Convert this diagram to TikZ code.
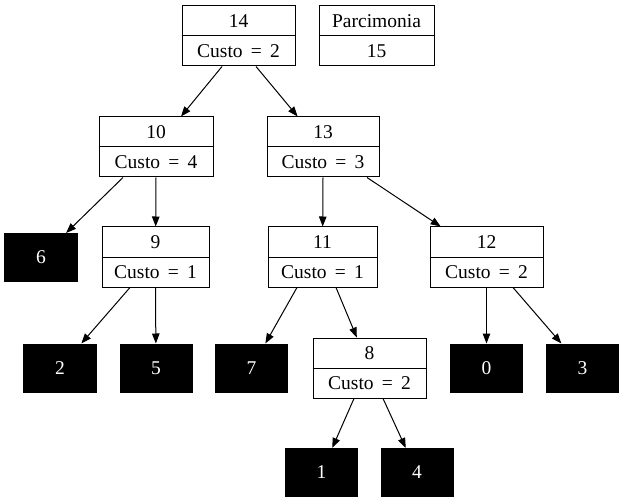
\documentclass[tikz,border=0pt]{standalone}
\usepackage{fontspec}
\setmainfont{Liberation Serif}
\usetikzlibrary{arrows.meta}

% slightly wider interword spaces for the record labels
\newcommand{\widespaces}{\spaceskip=0.42em\relax}

% two-field record: name, x, y, width, upper text, lower text
\newcommand{\recbox}[6]{%
  \node[recframe, minimum width=#4] (#1) at (#2,#3) {};
  \draw[recline] (#1.west) -- (#1.east);
  \node[rectext] (#1-top) at ([yshift=15bp]#1.center) {#5};
  \node[rectext] (#1-bot) at ([yshift=-15bp]#1.center) {\widespaces #6};
}
% filled leaf box: name, x, y, label
\newcommand{\leafbox}[4]{%
  \node[leaf] (#1) at (#2,#3) {#4};
}

\tikzset{
  recframe/.style={draw=black, line width=1bp, fill=white, minimum height=60bp, inner sep=0pt},
  recline/.style={black, line width=1bp},
  rectext/.style={inner sep=0pt, font=\fontsize{19.5bp}{21bp}\selectfont},
  leaf/.style={fill=black, draw=black, line width=1bp, text=white, minimum width=72bp,
    minimum height=48bp, inner sep=0pt, font=\fontsize{19.5bp}{21bp}\selectfont},
  edge/.style={draw=black, line width=1bp, -{Triangle[length=10bp,width=7.5bp]}},
}

\begin{document}
\begin{tikzpicture}[x=1bp, y=-1bp]
\useasboundingbox (0,0) rectangle (624,503);

% internal nodes
\recbox{n14}{238.5}{36}{113bp}{14}{Custo = 2}
\recbox{parc}{376.5}{36}{115bp}{Parcimonia}{15}
\recbox{n10}{156}{147}{114bp}{10}{Custo = 4}
\recbox{n13}{323}{147}{112bp}{13}{Custo = 3}
\recbox{n9}{155.5}{257}{107bp}{9}{Custo = 1}
\recbox{n11}{322.5}{257}{109bp}{11}{Custo = 1}
\recbox{n12}{486.5}{257}{113bp}{12}{Custo = 2}
\recbox{n8}{369.5}{368}{113bp}{8}{Custo = 2}

% leaves
\leafbox{l6}{41}{257.5}{6}
\leafbox{l2}{60}{368}{2}
\leafbox{l5}{156}{368}{5}
\leafbox{l7}{251.5}{368}{7}
\leafbox{l0}{486.5}{368}{0}
\leafbox{l3}{582.5}{368}{3}
\leafbox{l1}{321.5}{472.5}{1}
\leafbox{l4}{417}{472.5}{4}

% edges
\draw[edge] ([xshift=-16.5bp]n14.south) -- (n10);
\draw[edge] ([xshift=17.5bp]n14.south) -- (n13);
\draw[edge] ([xshift=-33bp]n10.south) -- (l6);
\draw[edge] (n10.south) -- (n9);
\draw[edge] ([xshift=-25.5bp]n9.south) -- (l2);
\draw[edge] (n9.south) -- (l5);
\draw[edge] (n13.south) -- (n11);
\draw[edge] ([xshift=44bp]n13.south) -- (n12);
\draw[edge] ([xshift=-25.5bp]n11.south) -- (l7);
\draw[edge] ([xshift=13.5bp]n11.south) -- (n8);
\draw[edge] (n12.south) -- (l0);
\draw[edge] ([xshift=26.5bp]n12.south) -- (l3);
\draw[edge] ([xshift=-15.5bp]n8.south) -- (l1);
\draw[edge] ([xshift=13.5bp]n8.south) -- (l4);
\end{tikzpicture}
\end{document}
